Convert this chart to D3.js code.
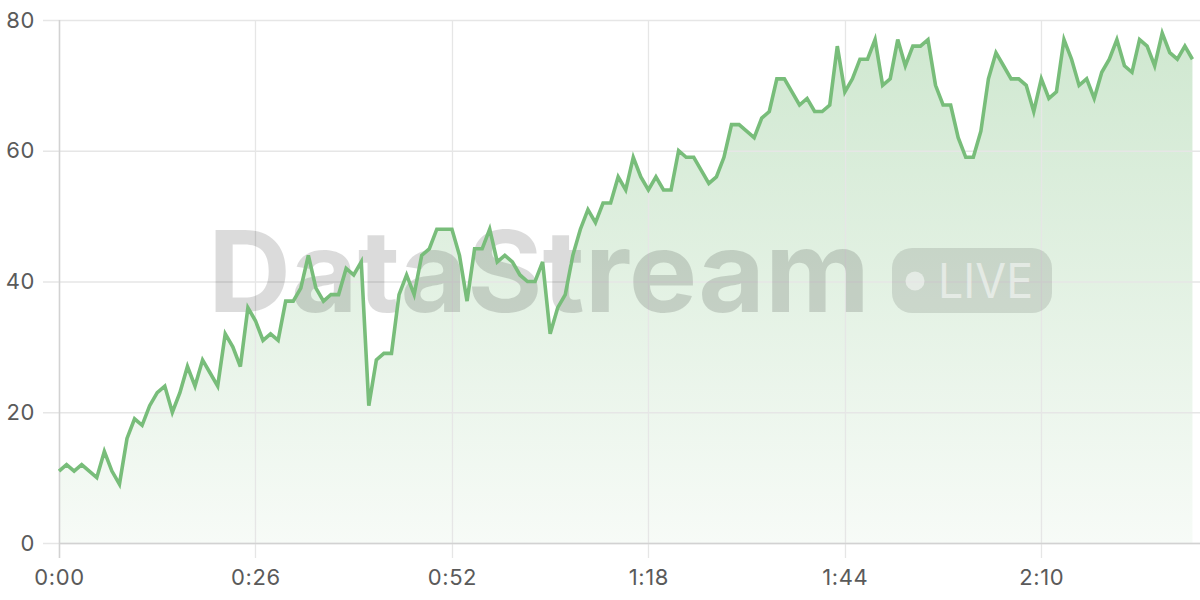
<!DOCTYPE html>
<html>
<head>
<meta charset="utf-8">
<script src="https://cdn.jsdelivr.net/npm/d3@7"></script>
<style>
  html, body { margin: 0; padding: 0; background: #fff; }
  svg { display: block; }
  text { font-family: Inter, "Noto Sans", sans-serif; }
</style>
</head>
<body>
<svg id="chart" width="1200" height="600"></svg>
<script>
// ---- data (one value per second) ----
const seconds = d3.range(0, 151);
const values = [
  11,12,11,12,11,10,14,11,9,16,
  19,18,21,23,24,20,23,27,24,28,
  26,24,32,30,27,36,34,31,32,31,
  37,37,39,44,39,37,38,38,42,41,
  43,21,28,29,29,38,41,38,44,45,
  48,48,48,44,37,45,45,48,43,44,
  43,41,40,40,43,32,36,38,44,48,
  51,49,52,52,56,54,59,56,54,56,
  54,54,60,59,59,57,55,56,59,64,
  64,63,62,65,66,71,71,69,67,68,
  66,66,67,76,69,71,74,74,77,70,
  71,77,73,76,76,77,70,67,67,62,
  59,59,63,71,75,73,71,71,70,66,
  71,68,69,77,74,70,71,68,72,74,
  77,73,72,77,76,73,78,75,74,76,
  74
];
const xTickValues = [0, 26, 52, 78, 104, 130];
const xTickLabels = ["0:00", "0:26", "0:52", "1:18", "1:44", "2:10"];
const yTickValues = [0, 20, 40, 60, 80];
const watermarkText = "DataStream";
const badgeText = "LIVE";

const data = seconds.map((s, i) => ({ s, v: values[i] }));

// ---- layout ----
const mLeft = 59, mRight = 1200, mTop = 20, mBottom = 543;
const svg = d3.select("#chart");

const x = d3.scaleLinear().domain([0, 151]).range([mLeft, mRight]);
const y = d3.scaleLinear().domain([0, 80]).range([mBottom, mTop]);

const lineColor = "#78bd7a";

// gradient
const defs = svg.append("defs");
const grad = defs.append("linearGradient")
  .attr("id", "fillGrad")
  .attr("gradientUnits", "userSpaceOnUse")
  .attr("x1", 0).attr("y1", mTop).attr("x2", 0).attr("y2", mBottom);
grad.append("stop").attr("offset", "0%").attr("stop-color", lineColor).attr("stop-opacity", 0.36);
grad.append("stop").attr("offset", "100%").attr("stop-color", lineColor).attr("stop-opacity", 0.06);

// area
const area = d3.area().x(d => x(d.s)).y0(y(0)).y1(d => y(d.v));
svg.append("path").datum(data).attr("d", area).attr("fill", "url(#fillGrad)");

// gridlines
const grid = svg.append("g");
grid.selectAll("line.h").data(yTickValues).join("line")
  .attr("class", "h")
  .attr("x1", mLeft - 16).attr("x2", mRight)
  .attr("y1", d => y(d) + 0.5).attr("y2", d => y(d) + 0.5)
  .attr("stroke", "#e6e6e6").attr("stroke-width", 1.3);
grid.selectAll("line.v").data(xTickValues).join("line")
  .attr("class", "v")
  .attr("x1", d => Math.round(x(d)) + 0.5).attr("x2", d => Math.round(x(d)) + 0.5)
  .attr("y1", mTop).attr("y2", mBottom + 15)
  .attr("stroke", "#e6e6e6").attr("stroke-width", 1.3);

// watermark
const wm = svg.append("g");
wm.append("text")
  .attr("x", 208).attr("y", 312)
  .attr("font-size", 113).attr("font-weight", 700)
  .attr("fill", "rgba(0,0,0,0.14)")
  .attr("textLength", 662)
  .attr("lengthAdjust", "spacingAndGlyphs")
  .text(watermarkText);
wm.append("rect")
  .attr("x", 892).attr("y", 248).attr("width", 160).attr("height", 65)
  .attr("rx", 20).attr("ry", 20)
  .attr("fill", "rgba(0,0,0,0.11)");
wm.append("circle")
  .attr("cx", 915).attr("cy", 281).attr("r", 9.5)
  .attr("fill", "rgba(255,255,255,0.5)");
wm.append("text")
  .attr("x", 938).attr("y", 298)
  .attr("font-size", 48).attr("font-weight", 400)
  .attr("fill", "rgba(255,255,255,0.5)")
  .attr("textLength", 95)
  .attr("lengthAdjust", "spacingAndGlyphs")
  .text(badgeText);

// axes
const yAxis = d3.axisLeft(y).tickValues(yTickValues).tickSize(16).tickPadding(8);
const yg = svg.append("g").attr("transform", `translate(${mLeft},0)`).call(yAxis);
yg.select(".domain").remove();
yg.selectAll(".tick line").remove();
yg.selectAll(".tick text").attr("fill", "#5a5a5a").attr("font-size", 22)
  .attr("letter-spacing", 0.6)
  .attr("font-family", "Inter, 'Noto Sans', sans-serif");

const xAxis = d3.axisBottom(x).tickValues(xTickValues)
  .tickFormat((d, i) => xTickLabels[i]).tickSize(15).tickPadding(11);
const xg = svg.append("g").attr("transform", `translate(0,${mBottom})`).call(xAxis);
xg.select(".domain").remove();
xg.selectAll(".tick line").remove();
xg.selectAll(".tick text").attr("fill", "#5a5a5a").attr("font-size", 22)
  .attr("letter-spacing", 0.6)
  .attr("font-family", "Inter, 'Noto Sans', sans-serif");

// axis lines
svg.append("line").attr("x1", mLeft + 0.5).attr("x2", mLeft + 0.5).attr("y1", mTop).attr("y2", mBottom + 15)
  .attr("stroke", "#d2d2d2").attr("stroke-width", 1.5);
svg.append("line").attr("x1", mLeft).attr("x2", mRight).attr("y1", mBottom + 0.5).attr("y2", mBottom + 0.5)
  .attr("stroke", "#d2d2d2").attr("stroke-width", 1.5);

// line
const line = d3.line().x(d => x(d.s)).y(d => y(d.v));
svg.append("path").datum(data).attr("d", line)
  .attr("fill", "none").attr("stroke", lineColor)
  .attr("stroke-width", 3.6).attr("stroke-linejoin", "miter");
</script>
</body>
</html>
